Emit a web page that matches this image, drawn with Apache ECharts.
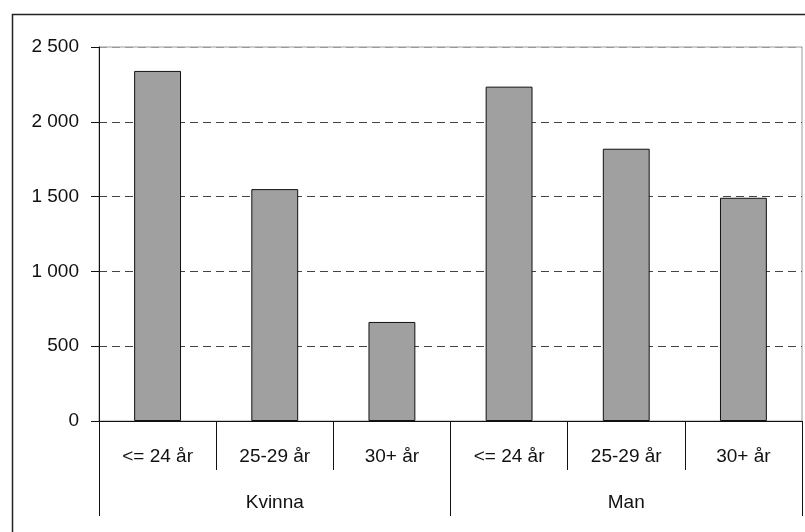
<!DOCTYPE html>
<html>
<head>
<meta charset="utf-8">
<script src="https://cdn.jsdelivr.net/npm/echarts@6/dist/echarts.min.js"></script>
<style>
html,body{margin:0;padding:0;background:#fff;}
#chart{width:805px;height:532px;}
</style>
</head>
<body>
<div id="chart"></div>
<script>
const categories = ['<= 24 år', '25-29 år', '30+ år', '<= 24 år', '25-29 år', '30+ år'];
const groups = ['Kvinna', 'Man'];
const values = [2340, 1550, 662, 2235, 1820, 1492];
const yTicks = [0, 500, 1000, 1500, 2000, 2500];

const FONT = '"Liberation Sans Narrow", "Arial Narrow", "Liberation Sans", sans-serif';
const chart = echarts.init(document.getElementById('chart'), null, {renderer: 'canvas'});
chart.setOption({
  animation: false,
  backgroundColor: '#fff',
  textStyle: {fontFamily: FONT},
  graphic: [{
    type: 'rect', left: 10, top: 12, z: 100,
    shape: {width: 800, height: 530},
    style: {fill: 'none', stroke: '#222', lineWidth: 1.5}
  }],
  grid: {left: 99, top: 47, right: 3, bottom: 111, show: true, borderColor: '#999', borderWidth: 1},
  xAxis: [{
    type: 'category', data: categories, position: 'bottom',
    axisLine: {lineStyle: {color: '#111', width: 1}},
    axisTick: {show: true, length: 49, interval: 0, lineStyle: {color: '#111'}},
    axisLabel: {interval: 0, margin: 26, fontSize: 19, color: '#111', fontFamily: FONT}
  }, {
    type: 'category', data: groups, position: 'bottom',
    axisLine: {show: false},
    axisTick: {show: true, length: 95, interval: 0, lineStyle: {color: '#111'}},
    axisLabel: {interval: 0, margin: 72, fontSize: 19, color: '#111', fontFamily: FONT}
  }],
  yAxis: {
    type: 'value', min: yTicks[0], max: yTicks[yTicks.length - 1], interval: yTicks[1] - yTicks[0],
    axisLine: {show: true, lineStyle: {color: '#111'}},
    axisTick: {show: true, length: 8, lineStyle: {color: '#111'}},
    axisLabel: {
      margin: 20, fontSize: 19, color: '#111', fontFamily: FONT,
      formatter: v => String(v).replace(/\B(?=(\d{3})+(?!\d))/g, ' ')
    },
    splitLine: {show: true, lineStyle: {color: ['#444','#444','#444','#444','#444','#999'], type: [8, 5], width: 1}}
  },
  series: [{
    type: 'bar', data: values, xAxisIndex: 0,
    barCategoryGap: '60%',
    itemStyle: {color: '#a0a0a0', borderColor: '#111', borderWidth: 1}
  }]
});
</script>
</body>
</html>
